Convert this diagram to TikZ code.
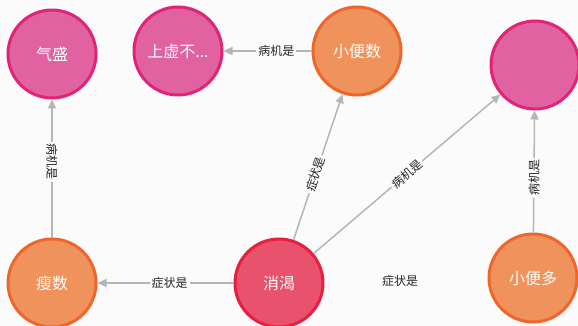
\documentclass[tikz,border=0pt]{standalone}
\usepackage{fontspec}
\setmainfont{Noto Sans CJK SC}
\usetikzlibrary{arrows.meta}
\definecolor{bg}{RGB}{251,251,251}
\definecolor{pinkfill}{RGB}{224,98,160}
\definecolor{pinkline}{RGB}{226,36,118}
\definecolor{orfill}{RGB}{240,146,92}
\definecolor{orline}{RGB}{238,102,42}
\definecolor{redfill}{RGB}{232,82,108}
\definecolor{redline}{RGB}{232,30,62}
\definecolor{edgegray}{RGB}{178,182,188}
\tikzset{
  ent/.style={circle, minimum size=88pt, inner sep=0pt, line width=3pt, text=white, font=\fontsize{16}{16}\selectfont},
  pinknode/.style={ent, fill=pinkfill, draw=pinkline},
  ornode/.style={ent, fill=orfill, draw=orline},
  rednode/.style={ent, fill=redfill, draw=redline},
  rel/.style={draw=edgegray, line width=1.5pt, -{Triangle[length=9pt,width=8pt]}},
  lbl/.style={fill=bg, inner sep=2pt, text=black!85, font=\fontsize{12}{12}\selectfont}
}
\begin{document}
\begin{tikzpicture}[x=1pt,y=-1pt]
\fill[bg] (0,0) rectangle (578,326);
\useasboundingbox (0,0) rectangle (578,326);
\node[pinknode] (qs) at (52,54) {气盛};
\node[pinknode] (sx) at (178,51) {上虚不...};
\node[ornode] (xbs) at (357,51) {小便数};
\node[pinknode] (pk) at (535,65) {};
\node[ornode] (ss) at (52,283) {瘦数};
\node[rednode] (xk) at (279,283) {消渴};
\node[ornode] (xbd) at (533,278) {小便多};
\draw[rel] (xk) -- node[lbl, pos=0.47] {症状是} (ss);
\draw[rel] (xk) -- node[lbl, sloped, pos=0.45] {症状是} (xbs);
\draw[rel] (xk) -- node[lbl, sloped, midway] {病机是} (pk);
\draw[rel] (xbd) -- node[lbl, rotate=90, pos=0.45] {病机是} (pk);
\draw[rel] (ss) -- node[lbl, rotate=-90, pos=0.55] {病机是} (qs);
\draw[rel] (xbs) -- node[lbl, pos=0.4] {病机是} (sx);
\node[lbl] (fl) at (400,281) {症状是};
\end{tikzpicture}
\end{document}
